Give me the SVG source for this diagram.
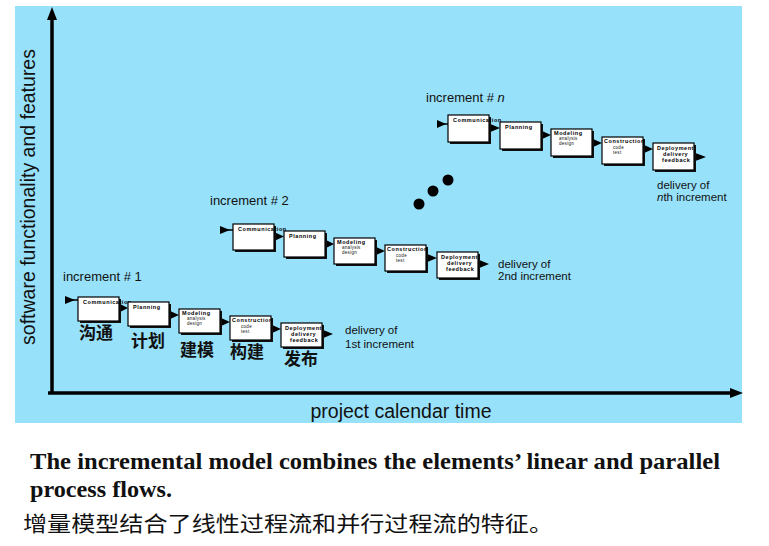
<svg xmlns="http://www.w3.org/2000/svg" width="769" height="546" viewBox="0 0 769 546">
<defs>
<style>
.sh{fill:#111}
.bx{fill:#fff;stroke:#000;stroke-width:1.2}
.t{font-family:"Liberation Sans",Arial,sans-serif;font-weight:bold;font-size:5.5px;letter-spacing:0.55px;fill:#000}
.s{font-family:"Liberation Sans",Arial,sans-serif;font-weight:normal;font-size:4.5px;letter-spacing:0.3px;fill:#111}
.lbl{font-family:"Liberation Sans",Arial,sans-serif;font-size:11.5px;fill:#111}
.inc{font-family:"Liberation Sans",Arial,sans-serif;font-size:13px;fill:#111}
.ax{font-family:"Liberation Sans",Arial,sans-serif;font-size:19.5px;fill:#111}
.cn{font-family:"Noto Sans CJK SC",sans-serif;font-weight:bold;font-size:17px;fill:#111}
.ar{fill:#000}
.ln{stroke:#000;stroke-width:1.5;fill:none}
.axis{stroke:#000;stroke-width:3.5;fill:none}
</style>
</defs>
<rect x="15" y="6" width="727" height="417" fill="#98E1FA"/>

<g id="axes">
<line class="axis" x1="52" y1="394" x2="52" y2="18"/>
<polygon class="ar" points="52,7 47,20 57,20"/>
<line class="axis" x1="48" y1="393" x2="732" y2="393"/>
<polygon class="ar" points="743,393 730,388 730,398"/>
<text class="ax" transform="translate(35,197) rotate(-90)" text-anchor="middle">software functionality and features</text>
<text class="ax" x="401" y="418" text-anchor="middle">project calendar time</text>
</g>

<g id="connectors">
<!-- increment 1 -->
<line class="ln" x1="65" y1="300" x2="78" y2="300"/>
<polygon class="ar" points="65,296 75,300 65,304"/>
<polygon class="ar" points="119,303.5 128,308 119,312.5"/>
<polygon class="ar" points="169,310.5 179,315 169,319.5"/>
<polygon class="ar" points="220,317.5 230,322 220,326.5"/>
<polygon class="ar" points="271,324.5 281,329 271,333.5"/>
<polygon class="ar" points="322,329.5 333,334 322,338.5"/>
<!-- increment 2 -->
<line class="ln" x1="220" y1="230" x2="233" y2="230"/>
<polygon class="ar" points="220,226 230,230 220,234"/>
<polygon class="ar" points="274,232 284,236.5 274,241"/>
<polygon class="ar" points="325,239.5 334,244 325,248.5"/>
<polygon class="ar" points="375,246.5 385,251 375,255.5"/>
<polygon class="ar" points="426,253.5 437,258 426,262.5"/>
<polygon class="ar" points="478,259.5 489,264 478,268.5"/>
<!-- increment n -->
<line class="ln" x1="437" y1="124" x2="448" y2="124"/>
<polygon class="ar" points="437,120 446,124 437,128"/>
<polygon class="ar" points="489,123.5 500,128 489,132.5"/>
<polygon class="ar" points="541,130.5 551,135 541,139.5"/>
<polygon class="ar" points="592,138.5 602,143 592,147.5"/>
<polygon class="ar" points="643,144.5 653,149 643,153.5"/>
<polygon class="ar" points="694,152.5 706,157 694,161.5"/>
</g>

<!-- increment 1 -->
<g id="inc1-label"><text class="inc" x="63" y="281">increment # 1</text></g>
<g id="inc1-communication" transform="translate(78,297)">
<rect class="sh" x="2" y="2" width="41" height="24"/><rect class="bx" width="41" height="24"/>
<text class="t" x="5" y="6.5">Communication</text>
</g>
<g id="inc1-planning" transform="translate(128,302)">
<rect class="sh" x="2" y="2" width="41" height="24"/><rect class="bx" width="41" height="24"/>
<text class="t" x="5" y="6.5">Planning</text>
</g>
<g id="inc1-modeling" transform="translate(179,309)">
<rect class="sh" x="2" y="2" width="41" height="24"/><rect class="bx" width="41" height="24"/>
<text class="t" x="3" y="6">Modeling</text><text class="s" x="8" y="11">analysis</text><text class="s" x="8" y="16">design</text>
</g>
<g id="inc1-construction" transform="translate(230,316)">
<rect class="sh" x="2" y="2" width="41" height="24"/><rect class="bx" width="41" height="24"/>
<text class="t" x="2" y="6">Construction</text><text class="s" x="11" y="11.5">code</text><text class="s" x="11" y="16.5">test</text>
</g>
<g id="inc1-deployment" transform="translate(281,323)">
<rect class="sh" x="2" y="2" width="41" height="24"/><rect class="bx" width="41" height="24"/>
<text class="t" x="4" y="6.5">Deployment</text><text class="t" x="10" y="12.5">delivery</text><text class="t" x="9" y="18.5">feedback</text>
</g>
<g id="inc1-delivery"><text class="lbl" x="345" y="334">delivery of</text><text class="lbl" x="345" y="348">1st increment</text></g>
<g id="cn-labels">
<text class="cn" x="79" y="339">沟通</text>
<text class="cn" x="131" y="347">计划</text>
<text class="cn" x="180" y="356">建模</text>
<text class="cn" x="230" y="358">构建</text>
<text class="cn" x="284" y="365">发布</text>
</g>

<!-- increment 2 -->
<g id="inc2-label"><text class="inc" x="210" y="205">increment # 2</text></g>
<g id="inc2-communication" transform="translate(233,224)">
<rect class="sh" x="2" y="2" width="41" height="26"/><rect class="bx" width="41" height="26"/>
<text class="t" x="5" y="6.5">Communication</text>
</g>
<g id="inc2-planning" transform="translate(284,231)">
<rect class="sh" x="2" y="2" width="41" height="26"/><rect class="bx" width="41" height="26"/>
<text class="t" x="5" y="6.5">Planning</text>
</g>
<g id="inc2-modeling" transform="translate(334,238)">
<rect class="sh" x="2" y="2" width="41" height="26"/><rect class="bx" width="41" height="26"/>
<text class="t" x="3" y="6">Modeling</text><text class="s" x="8" y="11">analysis</text><text class="s" x="8" y="16">design</text>
</g>
<g id="inc2-construction" transform="translate(385,245)">
<rect class="sh" x="2" y="2" width="41" height="26"/><rect class="bx" width="41" height="26"/>
<text class="t" x="2" y="6">Construction</text><text class="s" x="11" y="11.5">code</text><text class="s" x="11" y="16.5">test</text>
</g>
<g id="inc2-deployment" transform="translate(437,252)">
<rect class="sh" x="2" y="2" width="41" height="26"/><rect class="bx" width="41" height="26"/>
<text class="t" x="4" y="6.5">Deployment</text><text class="t" x="10" y="12.5">delivery</text><text class="t" x="9" y="18.5">feedback</text>
</g>
<g id="inc2-delivery"><text class="lbl" x="498" y="268">delivery of</text><text class="lbl" x="498" y="280">2nd increment</text></g>

<!-- dots -->
<g id="ellipsis">
<circle cx="448" cy="180" r="5.5" fill="#000"/>
<circle cx="433" cy="191" r="5.5" fill="#000"/>
<circle cx="419" cy="204" r="5.5" fill="#000"/>
</g>

<!-- increment n -->
<g id="incn-label"><text class="inc" x="426" y="102">increment # <tspan font-style="italic">n</tspan></text></g>
<g id="incn-communication" transform="translate(448,115)">
<rect class="sh" x="2" y="2" width="41" height="27"/><rect class="bx" width="41" height="27"/>
<text class="t" x="5" y="7">Communication</text>
</g>
<g id="incn-planning" transform="translate(500,122)">
<rect class="sh" x="2" y="2" width="41" height="27"/><rect class="bx" width="41" height="27"/>
<text class="t" x="5" y="7">Planning</text>
</g>
<g id="incn-modeling" transform="translate(551,129)">
<rect class="sh" x="2" y="2" width="41" height="27"/><rect class="bx" width="41" height="27"/>
<text class="t" x="3" y="6">Modeling</text><text class="s" x="8" y="11">analysis</text><text class="s" x="8" y="16">design</text>
</g>
<g id="incn-construction" transform="translate(602,137)">
<rect class="sh" x="2" y="2" width="41" height="27"/><rect class="bx" width="41" height="27"/>
<text class="t" x="2" y="6">Construction</text><text class="s" x="11" y="12">code</text><text class="s" x="11" y="17">test</text>
</g>
<g id="incn-deployment" transform="translate(653,143)">
<rect class="sh" x="2" y="2" width="41" height="27"/><rect class="bx" width="41" height="27"/>
<text class="t" x="4" y="7">Deployment</text><text class="t" x="10" y="13">delivery</text><text class="t" x="9" y="19">feedback</text>
</g>
<g id="incn-delivery"><text class="lbl" x="657" y="189">delivery of</text><text class="lbl" x="657" y="201"><tspan font-style="italic">n</tspan>th increment</text></g>

<!-- caption -->
<g id="caption">
<text x="30" y="469" font-family="'Liberation Serif','Times New Roman',serif" font-weight="bold" font-size="23" fill="#111" textLength="690" lengthAdjust="spacingAndGlyphs">The incremental model combines the elements’ linear and parallel</text>
<text x="30" y="497" font-family="'Liberation Serif','Times New Roman',serif" font-weight="bold" font-size="23" fill="#111" textLength="142" lengthAdjust="spacingAndGlyphs">process flows.</text>
<text x="23" y="531" font-family="'Noto Sans CJK SC',sans-serif" font-size="21" fill="#111" textLength="530" lengthAdjust="spacingAndGlyphs">增量模型结合了线性过程流和并行过程流的特征。</text>
</g>
</svg>
